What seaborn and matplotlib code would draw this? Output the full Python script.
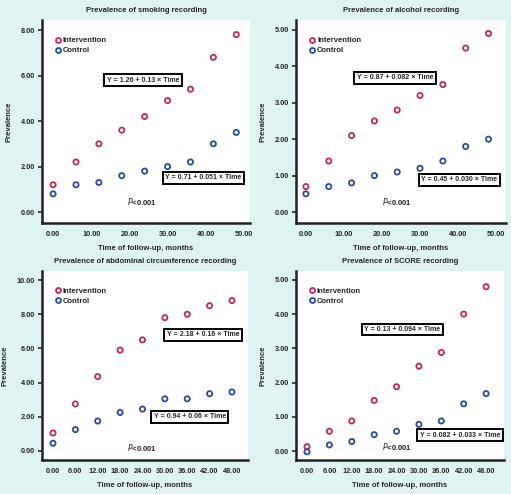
import matplotlib
matplotlib.use("Agg")
import matplotlib.pyplot as plt
import numpy as np
import pandas as pd
import seaborn as sns

time = [0, 6, 12, 18, 24, 30, 36, 42, 48]

smoking_int = [1.2, 2.2, 3.0, 3.6, 4.2, 4.9, 5.4, 6.8, 7.8]
smoking_ctl = [0.8, 1.2, 1.3, 1.6, 1.8, 2.0, 2.2, 3.0, 3.5]
alcohol_int = [0.7, 1.4, 2.1, 2.5, 2.8, 3.2, 3.5, 4.5, 4.9]
alcohol_ctl = [0.5, 0.7, 0.8, 1.0, 1.1, 1.2, 1.4, 1.8, 2.0]
abdominal_int = [1.05, 2.75, 4.35, 5.9, 6.5, 7.8, 8.0, 8.5, 8.8]
abdominal_ctl = [0.45, 1.25, 1.75, 2.25, 2.45, 3.05, 3.05, 3.35, 3.45]
score_int = [0.13, 0.58, 0.88, 1.48, 1.88, 2.48, 2.88, 4.0, 4.8]
score_ctl = [-0.02, 0.18, 0.28, 0.48, 0.58, 0.78, 0.88, 1.38, 1.68]

titles = ["Prevalence of smoking recording", "Prevalence of alcohol recording",
          "Prevalence of abdominal circumference recording", "Prevalence of SCORE recording"]
eq_int = ["Y = 1.26 + 0.13 \u00d7 Time", "Y = 0.87 + 0.082 \u00d7 Time",
          "Y = 2.18 + 0.16 \u00d7 Time", "Y = 0.13 + 0.094 \u00d7 Time"]
eq_ctl = ["Y = 0.71 + 0.051 \u00d7 Time", "Y = 0.45 + 0.030 \u00d7 Time",
          "Y = 0.94 + 0.06 \u00d7 Time", "Y = 0.082 + 0.033 \u00d7 Time"]

BG = "#dff4f2"
RED = "#c2285a"
BLUE = "#2a4a9e"

sns.set_style("white")
plt.rcParams["font.family"] = ["Liberation Sans", "DejaVu Sans"]

W, H = 511, 494
fig = plt.figure(figsize=(W / 100, H / 100), dpi=100, facecolor=BG)

# pixel boxes (left, top, right, bottom)
boxes = [(42, 20, 250, 223), (296, 20, 506, 223), (42, 271, 248, 460), (296, 271, 504, 460)]
ylims = [(-0.48, 8.44), (-0.3, 5.27), (-0.53, 10.53), (-0.26, 5.26)]
xlims = [(-2.9, 51.6), (-2.6, 52.6), (-2.95, 52.3), (-2.95, 52.8)]
yticks = [np.arange(0, 9, 2), np.arange(0, 6, 1), np.arange(0, 11, 2), np.arange(0, 6, 1)]
xticks = [np.arange(0, 51, 10), np.arange(0, 51, 10), time, time]
int_pos = [(23.6, 5.8), (23.4, 3.68), (40.2, 6.81), (25.5, 3.55)]
ctl_pos = [(39.3, 1.5), (40.3, 0.89), (36.7, 1.99), (41.0, 0.47)]
p_pos = [(23.3, 0.48), (24.0, 0.3), (23.9, 0.18), (24.1, 0.12)]
series = [(smoking_int, smoking_ctl), (alcohol_int, alcohol_ctl),
          (abdominal_int, abdominal_ctl), (score_int, score_ctl)]

for i, (l, t, r, b) in enumerate(boxes):
    ax = fig.add_axes([l / W, 1 - b / H, (r - l) / W, (b - t) / H])
    ax.set_facecolor("white")
    yi, yc = series[i]
    df = pd.DataFrame({
        "time": time * 2,
        "prev": yi + yc,
        "group": ["Intervention"] * len(time) + ["Control"] * len(time),
    })
    sns.scatterplot(data=df, x="time", y="prev", hue="group",
                    palette={"Intervention": RED, "Control": BLUE},
                    marker="o", s=14, linewidth=1.3, ax=ax, legend=False)
    # turn filled hue dots into open circles
    for coll in ax.collections:
        fc = coll.get_facecolors()
        coll.set_edgecolors(fc)
        coll.set_facecolors("none")
    ax.set_xlim(*xlims[i])
    ax.set_ylim(*ylims[i])
    ax.set_xticks(xticks[i])
    ax.set_xticklabels([f"{v:.2f}" for v in xticks[i]], fontsize=5.3, fontweight="bold")
    ax.set_yticks(yticks[i])
    ax.set_yticklabels([f"{v:.2f}" for v in yticks[i]], fontsize=5.3, fontweight="bold")
    ax.tick_params(axis="y", length=3, width=1.2, pad=2, direction="out", left=True)
    ax.tick_params(axis="x", length=0, pad=6)
    for s in ["top", "right"]:
        ax.spines[s].set_visible(False)
    for s in ["left", "bottom"]:
        ax.spines[s].set_linewidth(1.8)
        ax.spines[s].set_color("#222222")
    ax.set_xlabel("Time of follow-up, months", fontsize=5.5, fontweight="bold", labelpad=5)
    ax.set_ylabel("Prevalence", fontsize=5.5, fontweight="bold", labelpad=6)
    ax.set_title(titles[i], fontsize=5.5, fontweight="bold", pad=6)

    # legend
    h1 = plt.Line2D([], [], marker="o", ls="", mfc="none", mec=RED, mew=1.3, ms=3.6)
    h2 = plt.Line2D([], [], marker="o", ls="", mfc="none", mec=BLUE, mew=1.3, ms=3.6)
    ax.legend([h1, h2], ["Intervention", "Control"], loc="upper left",
              bbox_to_anchor=(0.02, 0.95), frameon=False, handletextpad=0.1,
              handlelength=1.2, labelspacing=0.35,
              prop={"size": 5.5, "weight": "bold"})

    bbox = dict(boxstyle="square,pad=0.35", fc="white", ec="black", lw=1.4)
    ax.text(*int_pos[i], eq_int[i], ha="center", va="center", fontsize=5,
            fontweight="bold", bbox=bbox)
    ax.text(*ctl_pos[i], eq_ctl[i], ha="center", va="center", fontsize=5,
            fontweight="bold", bbox=bbox)
    ax.text(*p_pos[i], "$\\mathit{P}$<0.001", ha="center", va="center", fontsize=5.5,
            fontweight="bold")

fig.savefig("out.png", dpi=100, facecolor=BG)
